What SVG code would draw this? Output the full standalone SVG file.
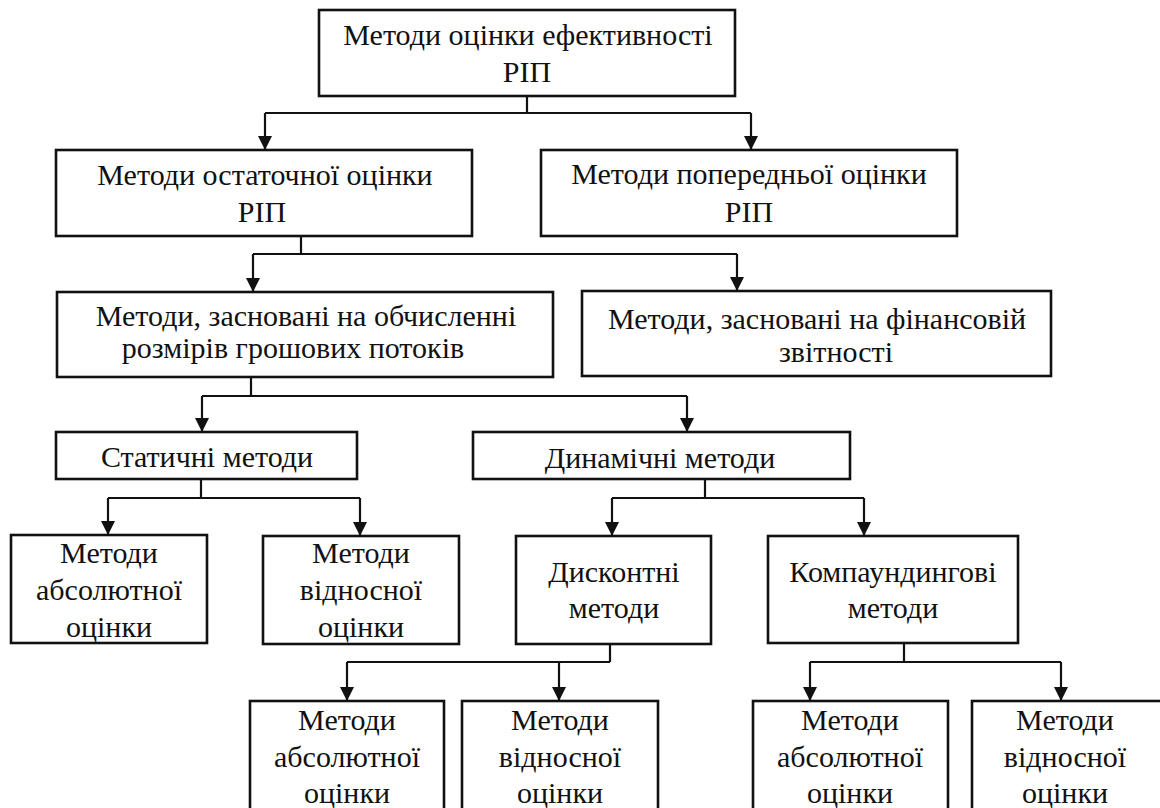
<svg xmlns="http://www.w3.org/2000/svg" width="1160" height="808" viewBox="0 0 1160 808">
<defs>
<marker id="ah" viewBox="0 0 14 14" refX="14" refY="7" markerWidth="14" markerHeight="14" markerUnits="userSpaceOnUse" orient="auto">
<path d="M0,0 L14,7 L0,14 Z" fill="#111"/>
</marker>
</defs>
<rect width="1160" height="808" fill="#fff"/>
<g id="connectors" fill="none" stroke="#111" stroke-width="2.2">
<path d="M527,96 V113 M265,113 H751"/>
<path d="M265,113 V150" marker-end="url(#ah)"/>
<path d="M751,113 V150" marker-end="url(#ah)"/>
<path d="M301,236 V254 M253,254 H737"/>
<path d="M253,254 V292" marker-end="url(#ah)"/>
<path d="M737,254 V291" marker-end="url(#ah)"/>
<path d="M251,377 V396 M202,396 H687"/>
<path d="M202,396 V432" marker-end="url(#ah)"/>
<path d="M687,396 V432" marker-end="url(#ah)"/>
<path d="M201,479 V498 M108,498 H360"/>
<path d="M108,498 V535" marker-end="url(#ah)"/>
<path d="M360,498 V536" marker-end="url(#ah)"/>
<path d="M705,479 V498 M612,498 H864"/>
<path d="M612,498 V536" marker-end="url(#ah)"/>
<path d="M864,498 V536" marker-end="url(#ah)"/>
<path d="M610,644 V662 M347,662 H610"/>
<path d="M347,662 V701" marker-end="url(#ah)"/>
<path d="M559,662 V701" marker-end="url(#ah)"/>
<path d="M904,643 V662 M810,662 H1061"/>
<path d="M810,662 V701" marker-end="url(#ah)"/>
<path d="M1061,662 V701" marker-end="url(#ah)"/>
</g>
<g id="nodes" font-family="Liberation Serif" font-size="30" text-anchor="middle">
<g id="n-root">
<rect x="319" y="10" width="416" height="86" fill="#fff" stroke="#111" stroke-width="2.6"/>
<text x="528" y="45" fill="#111">Методи оцінки ефективності</text>
<text x="527" y="82" fill="#111">РІП</text>
</g>
<g id="n-final">
<rect x="56" y="150" width="416" height="86" fill="#fff" stroke="#111" stroke-width="2.6"/>
<text x="265" y="185" fill="#111">Методи остаточної оцінки</text>
<text x="262" y="222" fill="#111">РІП</text>
</g>
<g id="n-prelim">
<rect x="541" y="150" width="416" height="86" fill="#fff" stroke="#111" stroke-width="2.6"/>
<text x="749" y="184" fill="#111">Методи попередньої оцінки</text>
<text x="749" y="222" fill="#111">РІП</text>
</g>
<g id="n-cashflow">
<rect x="57" y="292" width="496" height="85" fill="#fff" stroke="#111" stroke-width="2.6"/>
<text x="306" y="326" fill="#111">Методи, засновані на обчисленні</text>
<text x="293" y="358" fill="#111">розмірів грошових потоків</text>
</g>
<g id="n-financial">
<rect x="582" y="291" width="469" height="85" fill="#fff" stroke="#111" stroke-width="2.6"/>
<text x="817" y="329" fill="#111">Методи, засновані на фінансовій</text>
<text x="836" y="362" fill="#111">звітності</text>
</g>
<g id="n-static">
<rect x="56" y="432" width="301" height="47" fill="#fff" stroke="#111" stroke-width="2.6"/>
<text x="207" y="467" fill="#111">Статичні методи</text>
</g>
<g id="n-dynamic">
<rect x="473" y="432" width="377" height="47" fill="#fff" stroke="#111" stroke-width="2.6"/>
<text x="660" y="468" fill="#111">Динамічні методи</text>
</g>
<g id="n-static-abs">
<rect x="11" y="535" width="196" height="108" fill="#fff" stroke="#111" stroke-width="2.6"/>
<text x="109" y="563" fill="#111">Методи</text>
<text x="109" y="600" fill="#111">абсолютної</text>
<text x="109" y="637" fill="#111">оцінки</text>
</g>
<g id="n-static-rel">
<rect x="263" y="536" width="196" height="108" fill="#fff" stroke="#111" stroke-width="2.6"/>
<text x="361" y="563" fill="#111">Методи</text>
<text x="361" y="600" fill="#111">відносної</text>
<text x="361" y="637" fill="#111">оцінки</text>
</g>
<g id="n-discount">
<rect x="516" y="536" width="195" height="108" fill="#fff" stroke="#111" stroke-width="2.6"/>
<text x="614" y="582" fill="#111">Дисконтні</text>
<text x="614" y="618" fill="#111">методи</text>
</g>
<g id="n-compound">
<rect x="768" y="536" width="250" height="107" fill="#fff" stroke="#111" stroke-width="2.6"/>
<text x="893" y="582" fill="#111">Компаундингові</text>
<text x="893" y="618" fill="#111">методи</text>
</g>
<g id="n-disc-abs">
<rect x="250" y="701" width="194" height="115" fill="#fff" stroke="#111" stroke-width="2.6"/>
<text x="347" y="730" fill="#111">Методи</text>
<text x="347" y="767" fill="#111">абсолютної</text>
<text x="347" y="803" fill="#111">оцінки</text>
</g>
<g id="n-disc-rel">
<rect x="462" y="701" width="196" height="115" fill="#fff" stroke="#111" stroke-width="2.6"/>
<text x="560" y="730" fill="#111">Методи</text>
<text x="560" y="767" fill="#111">відносної</text>
<text x="560" y="803" fill="#111">оцінки</text>
</g>
<g id="n-comp-abs">
<rect x="753" y="701" width="195" height="115" fill="#fff" stroke="#111" stroke-width="2.6"/>
<text x="850" y="730" fill="#111">Методи</text>
<text x="850" y="767" fill="#111">абсолютної</text>
<text x="850" y="803" fill="#111">оцінки</text>
</g>
<g id="n-comp-rel">
<rect x="972" y="701" width="196" height="115" fill="#fff" stroke="#111" stroke-width="2.6"/>
<text x="1065" y="730" fill="#111">Методи</text>
<text x="1065" y="767" fill="#111">відносної</text>
<text x="1065" y="803" fill="#111">оцінки</text>
</g>
</g>
</svg>
